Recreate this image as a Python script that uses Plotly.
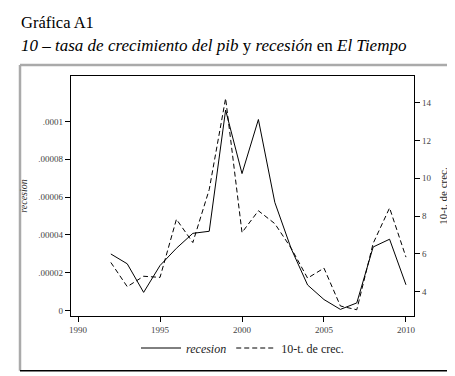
import plotly.graph_objects as go

years = list(range(1992, 2011))
recesion = [0.0000299, 0.0000247, 0.0000096, 0.0000238, 0.0000329, 0.0000408, 0.0000419,
            0.0001060, 0.0000724, 0.0001010, 0.0000572, 0.0000327, 0.0000135, 0.0000058,
            0.0000006, 0.0000040, 0.0000336, 0.0000377, 0.0000136]
crec = [5.55, 4.27, 4.82, 4.76, 7.83, 6.60, 9.40, 14.22, 7.13, 8.28, 7.60, 6.30, 4.72, 5.25,
        3.25, 3.05, 6.56, 8.43, 5.83]

left_ticks = [0, 0.00002, 0.00004, 0.00006, 0.00008, 0.0001]
left_labels = ["0", ".00002", ".00004", ".00006", ".00008", ".0001"]
right_ticks = [4, 6, 8, 10, 12, 14]
x_ticks = [1990, 1995, 2000, 2005, 2010]

FONT = "Liberation Serif"

fig = go.Figure()
fig.add_trace(go.Scatter(x=years, y=recesion, mode="lines", name="<i>recesion</i>",
                         line=dict(color="black", width=1), yaxis="y"))
fig.add_trace(go.Scatter(x=years, y=crec, mode="lines", name="10-t. de crec.",
                         line=dict(color="black", width=1, dash="5px,3px"), yaxis="y2"))

W, H = 455, 376
L, R, T, B = 63, 406, 68, 308
def px(x):
    return (x - L) / (R - L)
def py(y):
    return (B - y) / (B - T)

tickfont = dict(family=FONT, size=9, color="#444")
fig.update_layout(
    width=W, height=H,
    margin=dict(l=L, r=W - R, t=T, b=H - B, autoexpand=False),
    plot_bgcolor="white", paper_bgcolor="white",
    font=dict(family=FONT, color="black"),
    showlegend=True,
    legend=dict(orientation="h", x=0.5, xanchor="center", y=py(340), yanchor="middle",
                font=dict(family=FONT, size=12, color="#222"), itemwidth=40,
                bgcolor="rgba(0,0,0,0)"),
    xaxis=dict(range=[1989.57, 2010.49], tickvals=x_ticks, ticks="outside", ticklen=5,
               tickcolor="black", showline=True, linecolor="black", linewidth=1.3,
               mirror=True, showgrid=False, zeroline=False, tickfont=tickfont,
               automargin=False),
    yaxis=dict(range=[-0.0000029, 0.000124], tickvals=left_ticks, ticktext=left_labels,
               ticks="outside", ticklen=5, tickcolor="black", showline=True,
               linecolor="black", linewidth=1.3, showgrid=False, zeroline=False,
               tickfont=tickfont, automargin=False,
               title=dict(text="<i>recesion</i>", font=dict(family=FONT, size=10, color="#333"),
                          standoff=8)),
    yaxis2=dict(range=[2.72, 15.4], tickvals=right_ticks, overlaying="y", side="right",
                ticks="outside", ticklen=5, tickcolor="black", showline=True,
                linecolor="black", linewidth=1.3, showgrid=False, zeroline=False,
                tickfont=tickfont, automargin=False,
                title=dict(text="10-t. de crec.", font=dict(family=FONT, size=11, color="#222"),
                           standoff=8)),
)

# outer frame
x0, x1, y0, y1 = px(12), px(445), py(362.7), py(57)
fig.add_shape(type="line", xref="paper", yref="paper", x0=x0, x1=x0, y0=y0, y1=y1,
              line=dict(color="#aaaaaa", width=2.5))
fig.add_shape(type="line", xref="paper", yref="paper", x0=x0, x1=x1, y0=y1, y1=y1,
              line=dict(color="#aaaaaa", width=2.5))
fig.add_shape(type="line", xref="paper", yref="paper", x0=x1, x1=x1, y0=y0, y1=y1,
              line=dict(color="black", width=1.3))
fig.add_shape(type="line", xref="paper", yref="paper", x0=x0, x1=x1, y0=y0, y1=y0,
              line=dict(color="black", width=1.5))

fig.add_annotation(xref="paper", yref="paper", x=px(11), y=py(15), xanchor="left",
                   yanchor="middle", showarrow=False, text="Gráfica A1",
                   font=dict(family=FONT, size=16.5, color="black"))
fig.add_annotation(xref="paper", yref="paper", x=px(11), y=py(37.5), xanchor="left",
                   yanchor="middle", showarrow=False,
                   text="<i>10 – tasa de crecimiento del pib</i> y <i>recesión</i> en <i>El Tiempo</i>",
                   font=dict(family=FONT, size=17, color="black"))

fig.write_html("out.html")
